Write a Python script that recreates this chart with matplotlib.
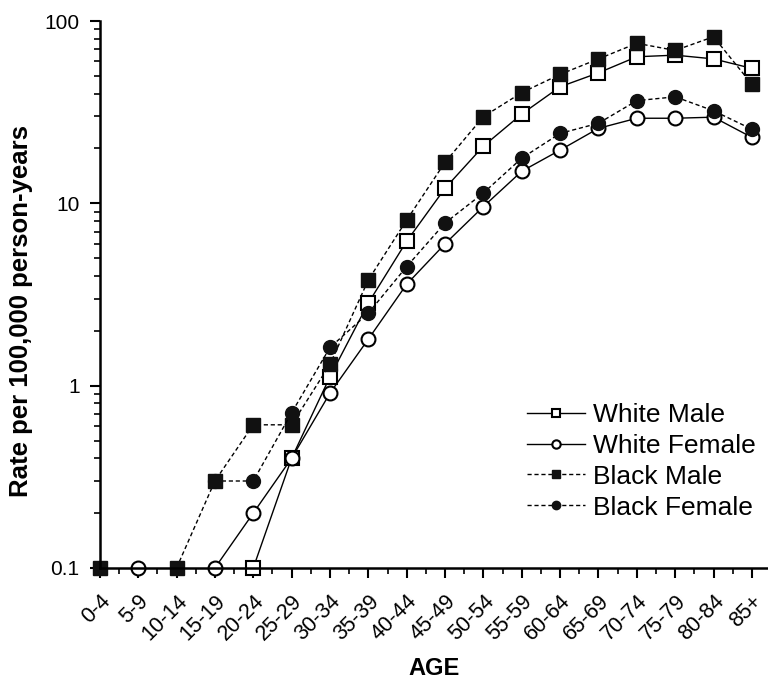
import numpy as np
import matplotlib
matplotlib.use('Agg')
import matplotlib.pyplot as plt
from matplotlib.ticker import LogLocator, NullFormatter, FixedLocator

plt.rcParams['font.family'] = ['Liberation Sans', 'DejaVu Sans']

# age groups and rates per 100,000 (nan = no cases, not drawn on log axis)
ages = ['0-4', '5-9', '10-14', '15-19', '20-24', '25-29', '30-34', '35-39', '40-44',
        '45-49', '50-54', '55-59', '60-64', '65-69', '70-74', '75-79', '80-84', '85+']
nan = np.nan
white_male = [nan, nan, nan, nan, 0.1, 0.4, 1.12, 2.84, 6.2, 12.1, 20.6, 30.9,
              43.6, 52, 63.7, 65, 62, 55]
white_female = [nan, 0.1, nan, 0.1, 0.2, 0.4, 0.91, 1.8, 3.6, 6.0, 9.6, 15.0,
                19.6, 25.8, 29.3, 29.3, 29.7, 23]
black_male = [0.1, nan, 0.1, 0.3, 0.61, 0.61, 1.31, 3.8, 8.1, 16.8, 29.9, 40.5,
              51, 62, 75.5, 69, 82, 45]
black_female = [nan, nan, nan, 0.3, 0.3, 0.71, 1.62, 2.5, 4.5, 7.8, 11.4, 17.7,
                24.2, 27.5, 36.6, 38.4, 32.2, 25.5]

x = np.arange(len(ages))

fig = plt.figure(figsize=(7.68, 6.79), dpi=100)
ax = fig.add_axes([0.130, 0.1635, 0.87, 0.8055])

dash = (0, (3, 2))
ms = 10
ax.plot(x, white_male, color='black', lw=1, ls='-', marker='s', ms=ms,
        mfc='white', mec='black', mew=1.5, label='White Male', clip_on=False)
ax.plot(x, white_female, color='black', lw=1, ls='-', marker='o', ms=ms,
        mfc='white', mec='black', mew=1.5, label='White Female', clip_on=False)
ax.plot(x, black_male, color='black', lw=1, ls=dash, marker='s', ms=ms,
        mfc='#111111', mec='#111111', label='Black Male', clip_on=False)
ax.plot(x, black_female, color='black', lw=1, ls=dash, marker='o', ms=ms,
        mfc='#111111', mec='#111111', label='Black Female', clip_on=False)

ax.set_yscale('log')
ax.set_ylim(0.1, 100)
ax.set_xlim(0, 17.42)
ax.set_yticks([0.1, 1, 10, 100])
ax.set_yticklabels(['0.1', '1', '10', '100'], fontsize=15)
ax.yaxis.set_minor_locator(LogLocator(base=10, subs=np.arange(2, 10)))
ax.yaxis.set_minor_formatter(NullFormatter())

ax.set_xticks(x)
ax.set_xticklabels(ages, rotation=45, ha='right', va='top', rotation_mode='anchor',
                   fontsize=15.5)
ax.xaxis.set_minor_locator(FixedLocator(x + 0.5))

ax.tick_params(which='major', direction='out', length=7.5, width=1.5)
ax.tick_params(which='minor', direction='out', length=4.3, width=1.2)
ax.tick_params(axis='y', which='major', pad=7)
ax.tick_params(axis='x', which='major', pad=9)

ax.spines['top'].set_visible(False)
ax.spines['right'].set_visible(False)
ax.spines['left'].set_linewidth(1.8)
ax.spines['bottom'].set_linewidth(1.8)

ax.set_xlabel('AGE', fontsize=17, fontweight='bold')
ax.xaxis.set_label_coords(0.5, -0.162)
ax.set_ylabel('Rate per 100,000 person-years', fontsize=18.5, fontweight='bold')
ax.yaxis.set_label_coords(-0.100, 0.47)

ax.legend(loc='upper left', bbox_to_anchor=(0.686, 0.4065), bbox_transform=fig.transFigure,
          frameon=False, fontsize=19, handlelength=2.2, numpoints=1, markerscale=0.6,
          labelspacing=0.26, handletextpad=0.3, borderpad=0, borderaxespad=0)

plt.savefig('out.png', dpi=100)
